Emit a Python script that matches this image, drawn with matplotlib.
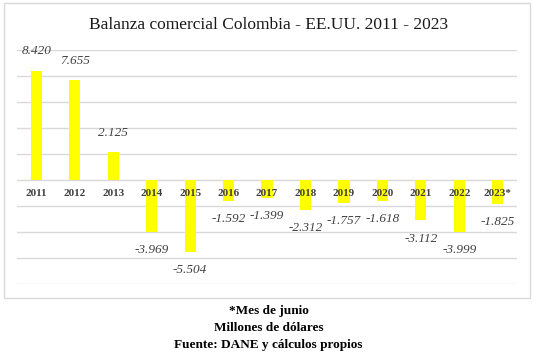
import matplotlib.pyplot as plt
from matplotlib.patches import Rectangle

# datos (millones de USD)
years = ['2011', '2012', '2013', '2014', '2015', '2016', '2017',
         '2018', '2019', '2020', '2021', '2022', '2023*']
balance = [8420, 7655, 2125, -3969, -5504, -1592, -1399,
           -2312, -1757, -1618, -3112, -3999, -1825]
notes = ['*Mes de junio', 'Millones de dólares', 'Fuente: DANE y cálculos propios']

plt.rcParams['font.family'] = ['Liberation Serif', 'DejaVu Serif']

W, H = 537, 358
fig = plt.figure(figsize=(W / 100, H / 100), dpi=100)

# marco del grafico
fig.patches.append(Rectangle((4 / W, 1 - 298 / H), 526 / W, 295 / H,
                             transform=fig.transFigure, fill=False,
                             edgecolor='#d9d9d9', linewidth=1.0))

ax = fig.add_axes([17 / W, 1 - 284 / H, 500 / W, 234 / H])
x = list(range(len(years)))
ax.bar(x, balance, width=0.29, color='#ffff00', zorder=2)

ax.set_ylim(-8000, 10000)
ax.set_xlim(-0.5, len(years) - 0.5)
ax.set_yticks(range(-8000, 10001, 2000))
ax.yaxis.grid(True, color='#d9d9d9', linewidth=1.0, zorder=0)
ax.set_axisbelow(True)
ax.tick_params(left=False, bottom=False, labelleft=False, labelbottom=False)
for s in ax.spines.values():
    s.set_visible(False)


def fmt(v):
    return f'{v:,}'.replace(',', '.')


for xi, v, yr in zip(x, balance, years):
    off = 14 if v > 0 else -13
    ax.annotate(fmt(v), (xi, v), xytext=(0, off), textcoords='offset points',
                ha='center', va='center', fontsize=9.5, style='italic',
                color='#404040')
    ax.annotate(yr, (xi, 0), xytext=(0, -10), textcoords='offset points',
                ha='center', va='center', fontsize=8, fontweight='bold',
                color='#404040', zorder=5)

fig.text(0.5, 1 - 25 / H, 'Balanza comercial Colombia - EE.UU. 2011 - 2023',
         ha='center', va='center', fontsize=12.5, color='#1a1a1a')

for i, t in enumerate(notes):
    fig.text(0.5, 1 - (311 + i * 17) / H, t, ha='center', va='center',
             fontsize=9.5, fontweight='bold', color='black')

fig.savefig('out.png', dpi=100)
